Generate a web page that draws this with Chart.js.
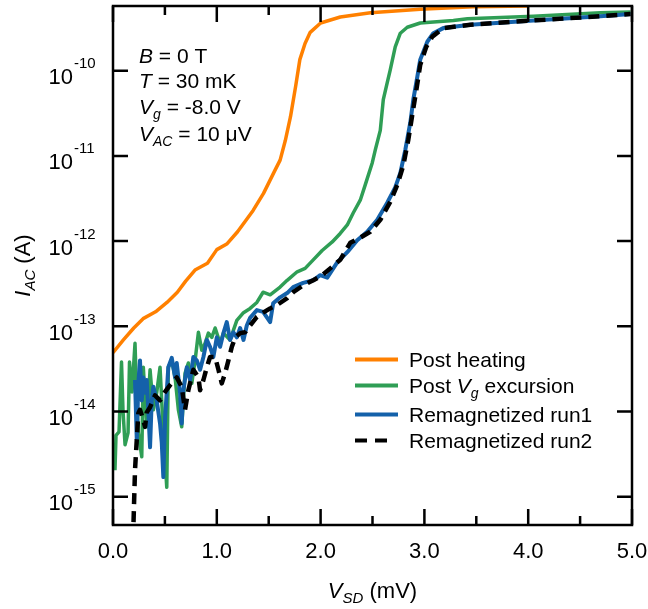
<!DOCTYPE html>
<html>
<head>
<meta charset="utf-8">
<script src="https://cdn.jsdelivr.net/npm/chart.js@4.4.1/dist/chart.umd.min.js"></script>
<style>
    html, body { margin: 0; padding: 0; background: #fff; }
    #caixa { width: 648px; height: 609px; position: relative; }
</style>
</head>
<body>
<div id="caixa"><canvas id="grafico"></canvas></div>
<script>
// V_SD (mV) e log10(I_AC / A)
const vsdHeating = [0, 0.10, 0.20, 0.29, 0.41, 0.52, 0.62, 0.70, 0.79, 0.91, 1.00, 1.10, 1.20, 1.35, 1.45, 1.56, 1.61, 1.66, 1.71, 1.76, 1.80, 1.85, 1.90, 2.00, 2.19, 2.48, 2.96, 3.47, 3.99];
const logHeating = [-13.31, -13.16, -13.02, -12.91, -12.83, -12.72, -12.60, -12.47, -12.34, -12.26, -12.10, -12.03, -11.89, -11.64, -11.44, -11.17, -11.05, -10.82, -10.54, -10.18, -9.87, -9.68, -9.55, -9.44, -9.37, -9.32, -9.28, -9.25, -9.24];

const vsdExcursion = [0.019, 0.029, 0.058, 0.082, 0.096, 0.116, 0.145, 0.159, 0.183, 0.212, 0.229, 0.244, 0.277, 0.292, 0.325, 0.357, 0.389, 0.421, 0.453, 0.485, 0.518, 0.533, 0.566, 0.598, 0.630, 0.662, 0.694, 0.726, 0.759, 0.791, 0.823, 0.855, 0.887, 0.919, 0.952, 0.984, 1.032, 1.064, 1.128, 1.193, 1.257, 1.321, 1.386, 1.446, 1.514, 1.610, 1.678, 1.774, 1.851, 1.929, 2.015, 2.112, 2.189, 2.257, 2.314, 2.382, 2.430, 2.498, 2.527, 2.575, 2.604, 2.642, 2.671, 2.719, 2.768, 2.835, 2.960, 3.279, 3.414, 4.050, 4.696, 4.986];
const logExcursion = [-14.69, -14.28, -14.24, -13.42, -13.98, -14.39, -14.25, -13.42, -13.77, -13.20, -13.87, -14.25, -14.53, -13.48, -14.18, -13.51, -13.98, -13.78, -13.48, -14.25, -14.89, -13.48, -13.40, -13.60, -13.98, -14.18, -13.55, -13.43, -13.67, -13.40, -13.07, -13.28, -13.20, -13.08, -13.13, -13.02, -13.20, -13.08, -13.16, -12.93, -12.84, -12.79, -12.72, -12.60, -12.63, -12.54, -12.46, -12.36, -12.32, -12.22, -12.11, -12.01, -11.91, -11.81, -11.67, -11.52, -11.34, -11.08, -10.93, -10.70, -10.34, -10.14, -9.99, -9.72, -9.56, -9.49, -9.44, -9.41, -9.39, -9.36, -9.32, -9.31];

const vsdRun1 = [0.212, 0.229, 0.244, 0.260, 0.277, 0.292, 0.309, 0.325, 0.340, 0.357, 0.373, 0.389, 0.421, 0.453, 0.470, 0.485, 0.502, 0.533, 0.566, 0.598, 0.614, 0.646, 0.662, 0.678, 0.711, 0.743, 0.774, 0.807, 0.839, 0.871, 0.904, 0.935, 0.967, 1.000, 1.032, 1.064, 1.096, 1.128, 1.160, 1.193, 1.225, 1.257, 1.289, 1.321, 1.386, 1.446, 1.514, 1.543, 1.610, 1.678, 1.736, 1.832, 1.929, 1.996, 2.064, 2.160, 2.257, 2.353, 2.449, 2.546, 2.642, 2.719, 2.768, 2.816, 2.864, 2.893, 2.932, 2.960, 3.028, 3.086, 3.182, 3.443, 4.050, 4.696, 4.986];
const logRun1 = [-13.63, -14.33, -13.67, -13.40, -13.87, -13.60, -13.78, -13.63, -13.98, -14.42, -13.87, -13.71, -13.87, -14.14, -14.37, -14.77, -14.07, -13.48, -13.37, -13.60, -13.43, -13.78, -14.14, -13.75, -13.48, -13.63, -13.36, -13.40, -13.51, -13.36, -13.16, -13.24, -13.36, -13.13, -13.24, -13.08, -12.95, -13.16, -13.07, -13.13, -13.02, -13.16, -12.99, -12.90, -12.81, -12.83, -12.95, -12.73, -12.66, -12.61, -12.54, -12.49, -12.46, -12.40, -12.43, -12.25, -12.13, -11.99, -11.89, -11.75, -11.55, -11.37, -11.20, -10.93, -10.61, -10.34, -10.07, -9.87, -9.66, -9.56, -9.50, -9.46, -9.41, -9.36, -9.335];

const vsdRun2 = [0.193, 0.203, 0.212, 0.229, 0.244, 0.260, 0.292, 0.309, 0.325, 0.357, 0.405, 0.453, 0.501, 0.550, 0.614, 0.662, 0.694, 0.726, 0.774, 0.823, 0.839, 0.871, 0.904, 0.935, 0.984, 1.016, 1.048, 1.080, 1.112, 1.145, 1.177, 1.225, 1.273, 1.321, 1.386, 1.446, 1.514, 1.581, 1.678, 1.736, 1.832, 1.929, 2.015, 2.093, 2.189, 2.286, 2.382, 2.478, 2.575, 2.671, 2.739, 2.797, 2.845, 2.883, 2.922, 2.960, 3.018, 3.076, 3.182, 3.443, 4.050, 4.696, 4.986];
const logRun2 = [-15.51, -15.07, -14.69, -14.33, -14.02, -13.98, -14.10, -14.18, -14.01, -13.95, -13.81, -13.87, -13.77, -13.69, -13.60, -13.71, -13.98, -13.75, -13.51, -13.60, -13.75, -13.63, -13.48, -13.36, -13.36, -13.51, -13.67, -13.55, -13.40, -13.24, -13.13, -13.08, -13.07, -12.99, -12.89, -12.84, -12.79, -12.75, -12.67, -12.60, -12.52, -12.46, -12.40, -12.32, -12.22, -12.02, -11.96, -11.89, -11.75, -11.54, -11.34, -11.11, -10.81, -10.52, -10.23, -9.93, -9.72, -9.60, -9.50, -9.46, -9.41, -9.36, -9.335];

// eixos
const xTicks = [0, 1, 2, 3, 4, 5];
const xTickLabels = ['0.0', '1.0', '2.0', '3.0', '4.0', '5.0'];
const xMinorTicks = [0.5, 1.5, 2.5, 3.5, 4.5];
const yDecades = [-10, -11, -12, -13, -14, -15];
const yLogMin = -15.332;
const yLogMax = -9.2406;

const FAMILIA = '"Liberation Sans", Arial, Helvetica, sans-serif';

function pontos(xs, logs) {
    return xs.map((x, i) => ({ x: x, y: Math.pow(10, logs[i]) }));
}

function fonte(size, italic) {
    return (italic ? 'italic ' : '') + size + 'px ' + FAMILIA;
}

// escreve pedacos de texto (italico, subscrito...) em sequencia
function escreverTrechos(ctx, trechos, x, y, align, tamPadrao) {
    let total = 0;
    trechos.forEach(t => {
        ctx.font = fonte(t.s || tamPadrao, t.i);
        total += ctx.measureText(t.t).width;
    });
    let cx = x;
    if (align === 'center') cx = x - total / 2;
    if (align === 'right') cx = x - total;
    ctx.textAlign = 'left';
    ctx.textBaseline = 'alphabetic';
    trechos.forEach(t => {
        ctx.font = fonte(t.s || tamPadrao, t.i);
        ctx.fillText(t.t, cx, y + (t.dy || 0));
        cx += ctx.measureText(t.t).width;
    });
}

const moldura = {
    id: 'moldura',
    afterDraw(chart) {
        const ctx = chart.ctx;
        const a = chart.chartArea;
        const sx = chart.scales.x;
        const sy = chart.scales.y;
        ctx.save();
        ctx.fillStyle = '#000';
        ctx.strokeStyle = '#000';
        ctx.lineWidth = 2.5;
        ctx.lineCap = 'butt';
        ctx.setLineDash([]);
        ctx.strokeRect(a.left, a.top, a.right - a.left, a.bottom - a.top);

        // ticks para dentro
        ctx.beginPath();
        xTicks.forEach(v => {
            const px = sx.getPixelForValue(v);
            ctx.moveTo(px, a.bottom); ctx.lineTo(px, a.bottom - 16);
            ctx.moveTo(px, a.top); ctx.lineTo(px, a.top + 16);
        });
        xMinorTicks.forEach(v => {
            const px = sx.getPixelForValue(v);
            ctx.moveTo(px, a.bottom); ctx.lineTo(px, a.bottom - 9);
            ctx.moveTo(px, a.top); ctx.lineTo(px, a.top + 9);
        });
        yDecades.forEach(e => {
            const py = sy.getPixelForValue(Math.pow(10, e));
            ctx.moveTo(a.left, py); ctx.lineTo(a.left + 15, py);
            ctx.moveTo(a.right, py); ctx.lineTo(a.right - 15, py);
        });
        ctx.stroke();

        // rotulos
        ctx.textBaseline = 'alphabetic';
        xTicks.forEach((v, i) => {
            ctx.font = fonte(22, false);
            ctx.textAlign = 'center';
            ctx.fillText(xTickLabels[i], sx.getPixelForValue(v), 558);
        });
        yDecades.forEach(e => {
            const py = sy.getPixelForValue(Math.pow(10, e));
            ctx.font = fonte(22, false);
            ctx.textAlign = 'right';
            ctx.fillText('10', a.left - 40, py + 13.5);
            ctx.font = fonte(15, false);
            ctx.textAlign = 'left';
            ctx.fillText(String(e), a.left - 39, py - 2.5);
        });

        // titulos dos eixos
        escreverTrechos(ctx, [
            { t: 'V', i: true }, { t: 'SD', i: true, s: 15, dy: 5 }, { t: ' (mV)' }
        ], (a.left + a.right) / 2, 598, 'center', 22);
        ctx.save();
        ctx.translate(30, (a.top + a.bottom) / 2);
        ctx.rotate(-Math.PI / 2);
        escreverTrechos(ctx, [
            { t: 'I', i: true }, { t: 'AC', i: true, s: 15, dy: 5 }, { t: ' (A)' }
        ], 0, 0, 'center', 22);
        ctx.restore();

        // condicoes
        escreverTrechos(ctx, [{ t: 'B', i: true }, { t: ' = 0 T' }], 139, 63, 'left', 21);
        escreverTrechos(ctx, [{ t: 'T', i: true }, { t: ' = 30 mK' }], 139, 88, 'left', 21);
        escreverTrechos(ctx, [{ t: 'V', i: true }, { t: 'g', i: true, s: 14, dy: 5 }, { t: ' = -8.0 V' }], 139, 113.5, 'left', 21);
        escreverTrechos(ctx, [{ t: 'V', i: true }, { t: 'AC', i: true, s: 14, dy: 5 }, { t: ' = 10 μV' }], 139, 141, 'left', 21);

        // legenda
        const itens = [
            { cor: corHeating, dash: [], fim: 398, y: 367, txt: [{ t: 'Post heating' }] },
            { cor: corExcursion, dash: [], fim: 398, y: 393, txt: [{ t: 'Post ' }, { t: 'V', i: true }, { t: 'g', i: true, s: 14, dy: 5 }, { t: ' excursion' }] },
            { cor: corRun1, dash: [], fim: 398, y: 422, txt: [{ t: 'Remagnetized run1' }] },
            { cor: corRun2, dash: [12, 8], fim: 387, y: 448, txt: [{ t: 'Remagnetized run2' }] }
        ];
        itens.forEach(it => {
            ctx.beginPath();
            ctx.strokeStyle = it.cor;
            ctx.lineWidth = 4;
            ctx.setLineDash(it.dash);
            ctx.moveTo(355, it.y - 7.5);
            ctx.lineTo(it.fim, it.y - 7.5);
            ctx.stroke();
            ctx.setLineDash([]);
            ctx.fillStyle = '#000';
            escreverTrechos(ctx, it.txt, 409, it.y, 'left', 21);
        });
        ctx.restore();
    }
};

const corHeating = '#ff8000';
const corExcursion = '#2f9e55';
const corRun1 = '#1461aa';
const corRun2 = '#000000';

function criarGrafico() {
    const ctx = document.getElementById('grafico').getContext('2d');
    new Chart(ctx, {
        type: 'line',
        data: {
            datasets: [
                { label: 'Post heating', data: pontos(vsdHeating, logHeating), borderColor: corHeating, borderWidth: 3.5, order: 3 },
                { label: 'Post Vg excursion', data: pontos(vsdExcursion, logExcursion), borderColor: corExcursion, borderWidth: 3.5, order: 2 },
                { label: 'Remagnetized run1', data: pontos(vsdRun1, logRun1), borderColor: corRun1, borderWidth: 4, order: 1 },
                { label: 'Remagnetized run2', data: pontos(vsdRun2, logRun2), borderColor: corRun2, borderWidth: 4.5, borderDash: [11, 7], order: 0 }
            ]
        },
        options: {
            responsive: true,
            maintainAspectRatio: false,
            animation: false,
            layout: { padding: { left: 113, top: 6, right: 16, bottom: 84 } },
            elements: {
                point: { radius: 0, hoverRadius: 0 },
                line: { tension: 0, fill: false, borderJoinStyle: 'round' }
            },
            plugins: { legend: { display: false }, tooltip: { enabled: false } },
            scales: {
                x: { type: 'linear', min: 0, max: 5, display: false },
                y: { type: 'logarithmic', min: Math.pow(10, yLogMin), max: Math.pow(10, yLogMax), display: false }
            }
        },
        plugins: [moldura]
    });
}

criarGrafico();
</script>
</body>
</html>
